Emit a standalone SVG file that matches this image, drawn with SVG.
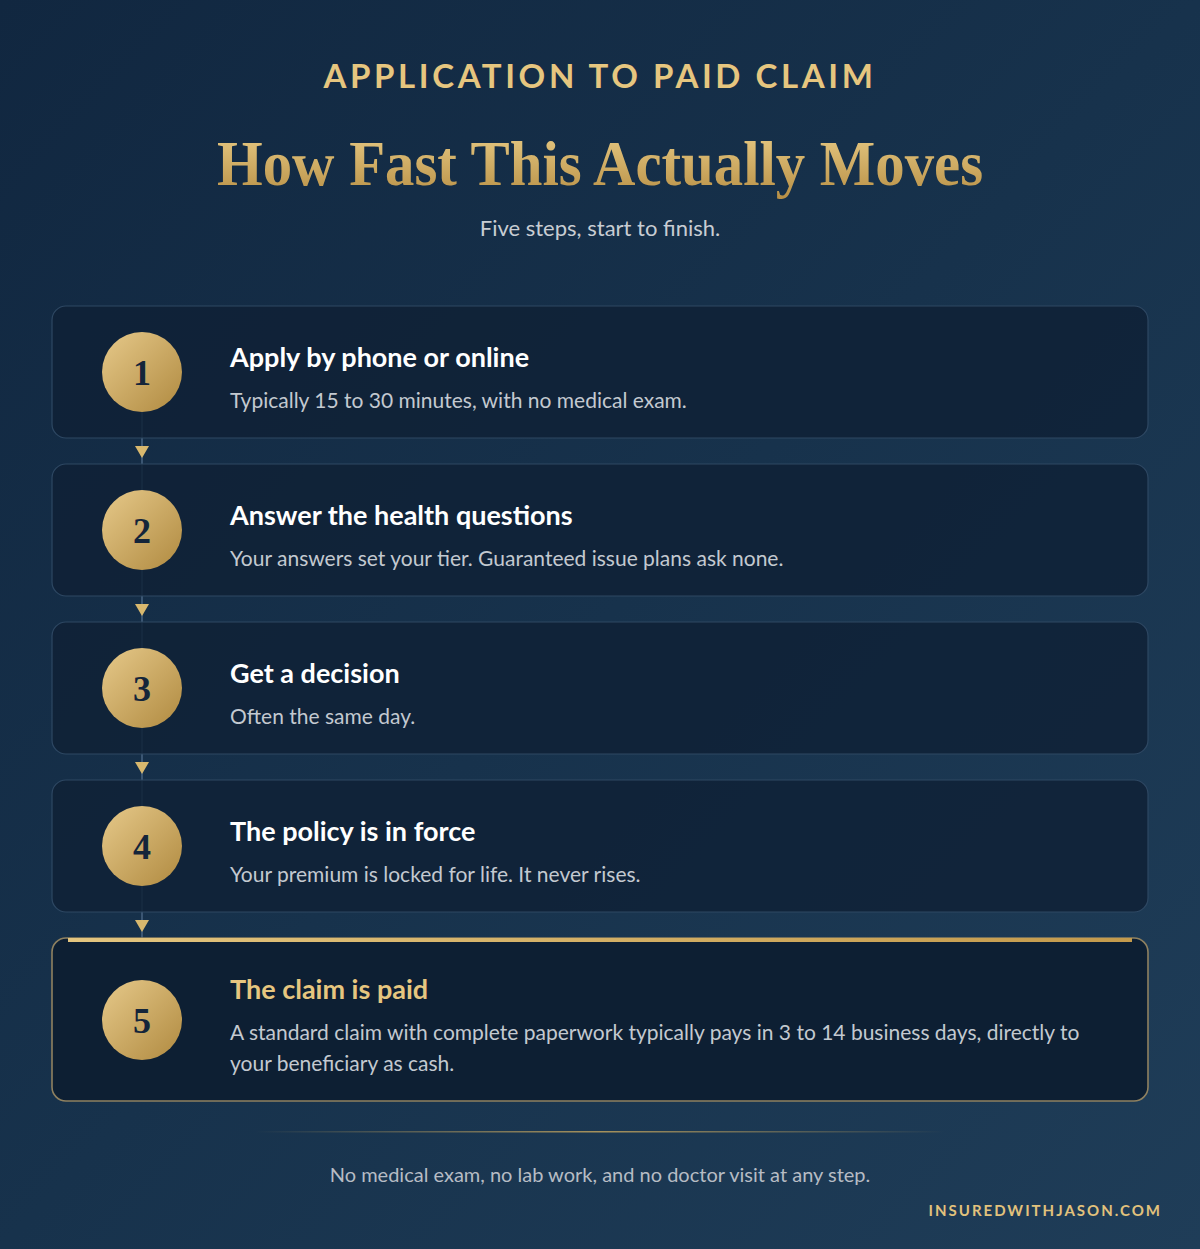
<svg xmlns="http://www.w3.org/2000/svg" width="1200" height="1249" viewBox="0 0 1200 1249">
<defs>
<linearGradient id="bg" x1="0" y1="0" x2="1" y2="1">
<stop offset="0" stop-color="#112740"/>
<stop offset="0.5" stop-color="#17324c"/>
<stop offset="1" stop-color="#1f3d58"/>
</linearGradient>
<linearGradient id="goldText" x1="0" y1="0" x2="0" y2="1">
<stop offset="0" stop-color="#e9cc86"/>
<stop offset="1" stop-color="#b78f45"/>
</linearGradient>
<linearGradient id="goldCircle" x1="0" y1="0" x2="1" y2="1">
<stop offset="0" stop-color="#e6c98a"/>
<stop offset="1" stop-color="#b08a40"/>
</linearGradient>
<linearGradient id="goldBar" x1="0" y1="0" x2="1" y2="0">
<stop offset="0" stop-color="#e3c57f"/>
<stop offset="1" stop-color="#c39a4c"/>
</linearGradient>
<linearGradient id="divider" x1="0" y1="0" x2="1" y2="0">
<stop offset="0" stop-color="#c9a85e" stop-opacity="0"/>
<stop offset="0.5" stop-color="#c9a85e" stop-opacity="0.8"/>
<stop offset="1" stop-color="#c9a85e" stop-opacity="0"/>
</linearGradient>
<style>
.card{fill:#0f2136;fill-opacity:0.85;stroke:#2e4863;stroke-width:1.2}
.card5{fill:#0d1f33;stroke:#8f8160;stroke-width:1.6}
.circ{fill:url(#goldCircle)}
.num{font-family:"Liberation Serif",serif;font-weight:bold;font-size:36px;fill:#14253a;text-anchor:middle}
.ttl{font-family:Lato,"Liberation Sans",sans-serif;font-weight:bold;font-size:27px;fill:#ffffff}
.ttl5{fill:#e6c67f}
.desc{font-family:Lato,"Liberation Sans",sans-serif;font-size:21px;fill:#c3c9d0}
.conn{stroke:#3b5673;stroke-width:2;fill:none}
.arrow{fill:#d8b86e}
</style>
</defs>
<rect x="0" y="0" width="1200" height="1249" fill="url(#bg)"/>

<g id="header">
<text x="600" y="88" text-anchor="middle" font-family="Lato, 'Liberation Sans', sans-serif" font-weight="bold" font-size="33" letter-spacing="3.6" fill="#e6c67f">APPLICATION TO PAID CLAIM</text>
<text x="600" y="185" text-anchor="middle" font-family="'Liberation Serif', serif" font-weight="bold" font-size="64" fill="url(#goldText)" textLength="766" lengthAdjust="spacingAndGlyphs">How Fast This Actually Moves</text>
<text x="600" y="236" text-anchor="middle" font-family="Lato, 'Liberation Sans', sans-serif" font-size="22" fill="#c8cdd3">Five steps, start to finish.</text>
</g>

<g id="connectors">
<line class="conn" x1="142" y1="412" x2="142" y2="490"/>
<line class="conn" x1="142" y1="570" x2="142" y2="648"/>
<line class="conn" x1="142" y1="728" x2="142" y2="806"/>
<line class="conn" x1="142" y1="886" x2="142" y2="980"/>
<path class="arrow" d="M135,446 L149,446 L142,458 Z"/>
<path class="arrow" d="M135,604 L149,604 L142,616 Z"/>
<path class="arrow" d="M135,762 L149,762 L142,774 Z"/>
<path class="arrow" d="M135,920 L149,920 L142,932 Z"/>
</g>

<g id="step1">
<rect class="card" x="52" y="306" width="1096" height="132" rx="14"/>
<circle class="circ" cx="142" cy="372" r="40"/>
<text class="num" x="142" y="385">1</text>
<text class="ttl" x="230" y="367">Apply by phone or online</text>
<text class="desc" x="230" y="408">Typically 15 to 30 minutes, with no medical exam.</text>
</g>

<g id="step2">
<rect class="card" x="52" y="464" width="1096" height="132" rx="14"/>
<circle class="circ" cx="142" cy="530" r="40"/>
<text class="num" x="142" y="543">2</text>
<text class="ttl" x="230" y="525">Answer the health questions</text>
<text class="desc" x="230" y="566">Your answers set your tier. Guaranteed issue plans ask none.</text>
</g>

<g id="step3">
<rect class="card" x="52" y="622" width="1096" height="132" rx="14"/>
<circle class="circ" cx="142" cy="688" r="40"/>
<text class="num" x="142" y="701">3</text>
<text class="ttl" x="230" y="683">Get a decision</text>
<text class="desc" x="230" y="724">Often the same day.</text>
</g>

<g id="step4">
<rect class="card" x="52" y="780" width="1096" height="132" rx="14"/>
<circle class="circ" cx="142" cy="846" r="40"/>
<text class="num" x="142" y="859">4</text>
<text class="ttl" x="230" y="841">The policy is in force</text>
<text class="desc" x="230" y="882">Your premium is locked for life. It never rises.</text>
</g>

<g id="step5">
<rect class="card5" x="52" y="938" width="1096" height="163" rx="14"/>
<rect x="68" y="938" width="1064" height="4" fill="url(#goldBar)"/>
<circle class="circ" cx="142" cy="1020" r="40"/>
<text class="num" x="142" y="1033">5</text>
<text class="ttl ttl5" x="230" y="999">The claim is paid</text>
<text class="desc" x="230" y="1040">A standard claim with complete paperwork typically pays in 3 to 14 business days, directly to</text>
<text class="desc" x="230" y="1071">your beneficiary as cash.</text>
</g>

<g id="footer">
<rect x="255" y="1131" width="690" height="1.5" fill="url(#divider)"/>
<text x="600" y="1182" text-anchor="middle" font-family="Lato, 'Liberation Sans', sans-serif" font-size="20" fill="#b6bcc4">No medical exam, no lab work, and no doctor visit at any step.</text>
<text x="1162" y="1216" text-anchor="end" font-family="Lato, 'Liberation Sans', sans-serif" font-weight="bold" font-size="15" letter-spacing="2" fill="#e2c27c">INSUREDWITHJASON.COM</text>
</g>
</svg>
